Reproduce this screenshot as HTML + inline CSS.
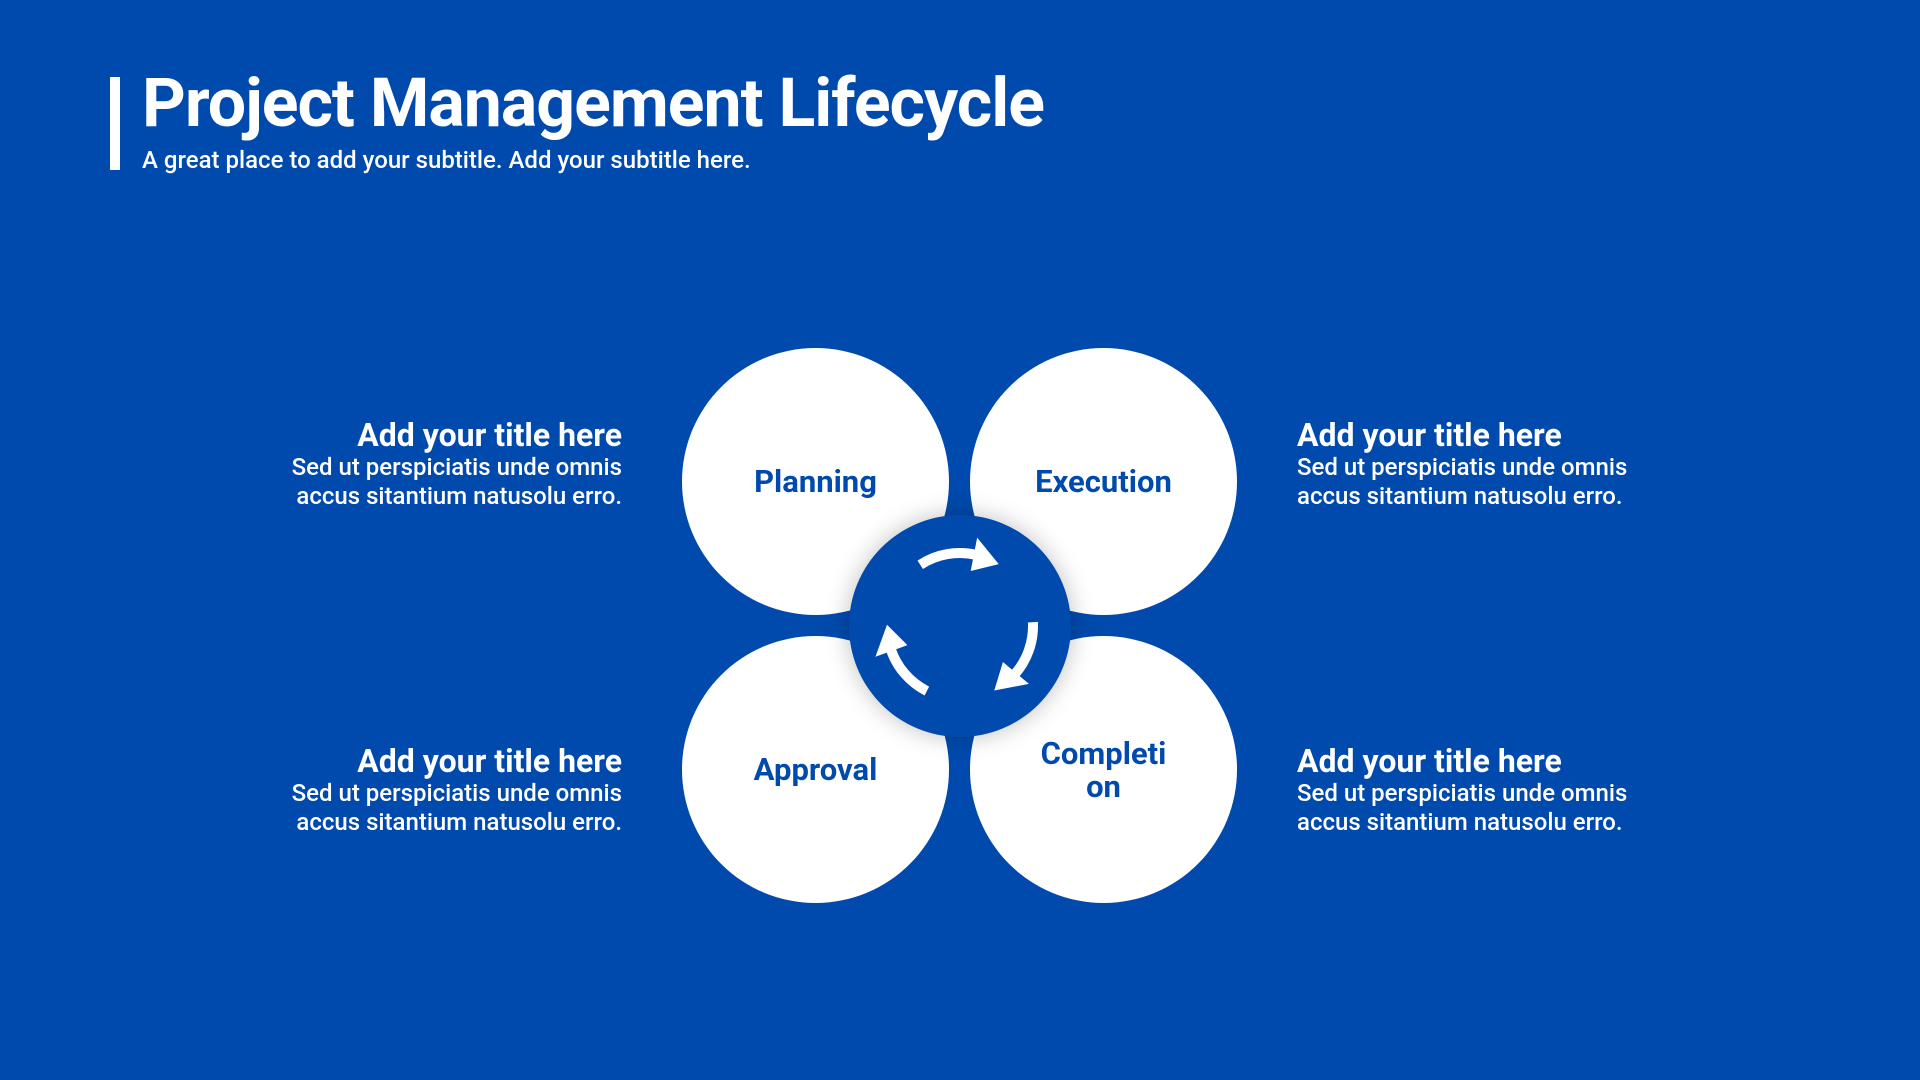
<!DOCTYPE html>
<html><head><meta charset="utf-8"><style>
html,body{margin:0;padding:0;}
body{width:1920px;height:1080px;background:#004aad;position:relative;overflow:hidden;font-family:"Roboto","Liberation Sans",sans-serif;color:#fff;}
.bar{position:absolute;left:110px;top:77px;width:10px;height:93px;background:#fff;}
h1{position:absolute;left:142px;top:63px;margin:0;font-size:68px;font-weight:bold;letter-spacing:-1px;line-height:80px;}
.sub{position:absolute;left:142px;top:146px;font-size:24px;line-height:28px;font-weight:500;}
.c{position:absolute;width:267px;height:267px;border-radius:50%;background:#fff;color:#004aad;font-weight:bold;font-size:31px;display:flex;align-items:center;justify-content:center;text-align:center;line-height:33px;}
.blk{position:absolute;width:420px;}
.blk b{display:block;font-size:32px;line-height:36px;}
.blk span{display:block;font-size:24px;line-height:29px;font-weight:500;}
.l{text-align:right;}
</style></head><body>
<div class="bar"></div>
<h1>Project Management Lifecycle</h1>
<div class="sub">A great place to add your subtitle. Add your subtitle here.</div>

<div class="blk l" style="left:202px;top:417px"><b>Add your title here</b><span>Sed ut perspiciatis unde omnis</span><span>accus sitantium natusolu erro.</span></div>
<div class="blk" style="left:1297px;top:417px"><b>Add your title here</b><span>Sed ut perspiciatis unde omnis</span><span>accus sitantium natusolu erro.</span></div>
<div class="blk l" style="left:202px;top:743px"><b>Add your title here</b><span>Sed ut perspiciatis unde omnis</span><span>accus sitantium natusolu erro.</span></div>
<div class="blk" style="left:1297px;top:743px"><b>Add your title here</b><span>Sed ut perspiciatis unde omnis</span><span>accus sitantium natusolu erro.</span></div>

<div class="c" style="left:682px;top:348px">Planning</div>
<div class="c" style="left:970px;top:348px">Execution</div>
<div class="c" style="left:682px;top:636px">Approval</div>
<div class="c" style="left:970px;top:636px">Completi<br>on</div>
<div style="position:absolute;left:849px;top:515px;width:222px;height:222px;border-radius:50%;background:#004aad;box-shadow:0 0 24px rgba(0,0,0,0.25);"></div>
<svg id="s" width="1920" height="1080" style="position:absolute;left:0;top:0"></svg>
<script>
var cx=960,cy=626,r=73,s=document.getElementById('s'),h='';
function P(a,rr){a=a*Math.PI/180;return [cx+rr*Math.cos(a),cy+rr*Math.sin(a)];}
[[237,283,302],[357,42,62],[117,162,181]].forEach(function(d){
 var a=P(d[0],r),b=P(d[1],r);
 h+='<path d="M'+a[0]+' '+a[1]+' A'+r+' '+r+' 0 0 1 '+b[0]+' '+b[1]+'" fill="none" stroke="#fff" stroke-width="10"/>';
 var t=P(d[2],r),p1=P(d[1]-2,r-17),p2=P(d[1]-2,r+17);
 h+='<polygon points="'+t.join(',')+' '+p1.join(',')+' '+p2.join(',')+'" fill="#fff"/>';
});
s.innerHTML=h;
</script>
</body></html>
